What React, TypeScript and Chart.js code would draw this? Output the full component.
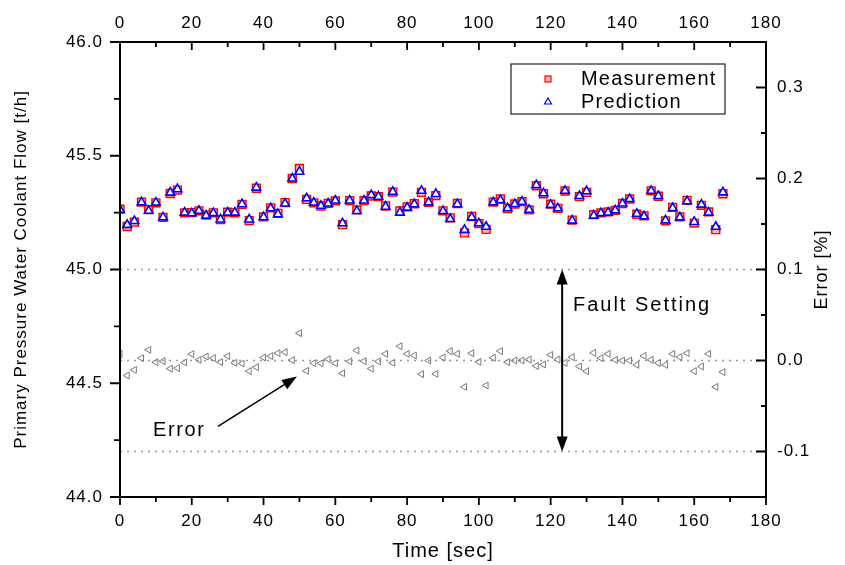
import React, { useEffect, useRef } from 'react';
import { Chart, registerables } from 'chart.js';

Chart.register(...registerables);

// ---------- data ----------
const timeSec = [
  0, 2, 4, 6, 8, 10, 12, 14, 16, 18, 20, 22, 24, 26, 28, 30, 32, 34, 36, 38,
  40, 42, 44, 46, 48, 50, 52, 54, 56, 58, 60, 62, 64, 66, 68, 70, 72, 74, 76, 78,
  80, 82, 84, 86, 88, 90, 92, 94, 96, 98, 100, 102, 104, 106, 108, 110, 112, 114, 116, 118,
  120, 122, 124, 126, 128, 130, 132, 134, 136, 138, 140, 142, 144, 146, 148, 150, 152, 154, 156, 158,
  160, 162, 164, 166, 168,
];

const prediction = [
  45.262, 45.196, 45.213, 45.295, 45.258, 45.294, 45.229, 45.338, 45.353, 45.25,
  45.247, 45.258, 45.237, 45.248, 45.22, 45.25, 45.25, 45.287, 45.22, 45.36,
  45.23, 45.269, 45.243, 45.29, 45.4, 45.43, 45.313, 45.294, 45.28, 45.29,
  45.303, 45.203, 45.303, 45.257, 45.303, 45.327, 45.32, 45.276, 45.341, 45.25,
  45.272, 45.287, 45.346, 45.295, 45.332, 45.257, 45.222, 45.287, 45.174, 45.229,
  45.203, 45.188, 45.295, 45.305, 45.269, 45.288, 45.298, 45.262, 45.371, 45.335,
  45.284, 45.269, 45.346, 45.215, 45.323, 45.344, 45.237, 45.248, 45.25, 45.26,
  45.29, 45.31, 45.245, 45.234, 45.346, 45.323, 45.216, 45.27, 45.229, 45.3,
  45.209, 45.285, 45.25, 45.188, 45.339,
];

const measurement = [
  45.265, 45.189, 45.208, 45.296, 45.263, 45.293, 45.229, 45.334, 45.349, 45.249,
  45.25, 45.258, 45.239, 45.249, 45.219, 45.252, 45.249, 45.286, 45.215, 45.357,
  45.231, 45.271, 45.247, 45.294, 45.4, 45.444, 45.308, 45.293, 45.279, 45.291,
  45.302, 45.197, 45.303, 45.262, 45.303, 45.323, 45.32, 45.279, 45.34, 45.257,
  45.275, 45.289, 45.339, 45.295, 45.325, 45.258, 45.227, 45.29, 45.161, 45.233,
  45.202, 45.176, 45.296, 45.31, 45.268, 45.288, 45.298, 45.262, 45.368, 45.333,
  45.287, 45.269, 45.345, 45.217, 45.32, 45.339, 45.241, 45.249, 45.253, 45.26,
  45.29, 45.31, 45.243, 45.236, 45.346, 45.322, 45.214, 45.273, 45.231, 45.304,
  45.204, 45.282, 45.253, 45.175, 45.333,
];

const errorPct = [
  0.007, -0.0165, -0.0103, 0.0026, 0.0117, -0.0018, -0.0007, -0.009, -0.0084, -0.0022,
  0.007, 0.0007, 0.0044, 0.0026, -0.0018, 0.0048, -0.0026, -0.0033, -0.0117, -0.0073,
  0.0033, 0.0048, 0.0081, 0.0092, 0.0004, 0.03, -0.0114, -0.003, -0.003, 0.0015,
  -0.003, -0.014, -0.001, 0.011, -0.0007, -0.009, -0.001, 0.0073, -0.0026, 0.0157,
  0.0073, 0.0055, -0.015, 0.0, -0.0147, 0.0033, 0.0103, 0.0073, -0.029, 0.008,
  -0.0015, -0.0275, 0.003, 0.0103, -0.0018, 0.0, 0.0, 0.0011, -0.006, -0.0044,
  0.0062, 0.0011, -0.0026, 0.0037, -0.0066, -0.0117, 0.0084, 0.0026, 0.0073, 0.0007,
  0.0, 0.0, -0.0048, 0.0051, 0.0007, -0.0026, -0.0048, 0.0073, 0.0037, 0.008,
  -0.0117, -0.0066, 0.0073, -0.029, -0.0128,
];

const xTicks = [0, 20, 40, 60, 80, 100, 120, 140, 160, 180];
const leftTicks = [44.0, 44.5, 45.0, 45.5, 46.0];
const rightTicks = [-0.1, 0.0, 0.1, 0.2, 0.3];
const faultLevels = [0.1, 0.0, -0.1];
const xRange = [0, 180];
const leftRange = [44.0, 46.0];
const rightRange = [-0.15, 0.35];

// annotation anchors (data coordinates: time, error %)
const faultArrowX = 123.2;
const faultLabel = { text: 'Fault Setting', x: 126.2, y: 0.06 };
const errorLabel = { text: 'Error', x: 9.2, y: -0.077 };
const errorArrow = { x0: 27.3, y0: -0.0725, x1: 49.3, y1: -0.0176 };

const FONT = '"Liberation Sans", Arial, Helvetica, sans-serif';

function midpoints(arr: number[]) {
  const out: number[] = [];
  for (let i = 0; i < arr.length - 1; i++) out.push((arr[i] + arr[i + 1]) / 2);
  return out;
}

function arrowHead(ctx: CanvasRenderingContext2D, x0: number, y0: number, x1: number, y1: number, len: number, half: number) {
  const a = Math.atan2(y1 - y0, x1 - x0);
  ctx.beginPath();
  ctx.moveTo(x1, y1);
  ctx.lineTo(x1 - len * Math.cos(a) + half * Math.sin(a), y1 - len * Math.sin(a) - half * Math.cos(a));
  ctx.lineTo(x1 - len * Math.cos(a) - half * Math.sin(a), y1 - len * Math.sin(a) + half * Math.cos(a));
  ctx.closePath();
  ctx.fill();
}

const decorPlugin = {
  id: 'decor',
  beforeDraw(chart: any) {
    chart.ctx.letterSpacing = '1px';
    const { ctx } = chart;
    ctx.save();
    ctx.fillStyle = '#fff';
    ctx.fillRect(0, 0, chart.width, chart.height);
    ctx.restore();
  },
  afterDraw(chart: any) {
    const { ctx, chartArea: ca, scales } = chart;
    const sx = scales.x;
    const sy = scales.y;
    const sy2 = scales.y2;
    ctx.save();
    ctx.strokeStyle = '#000';
    ctx.fillStyle = '#000';

    // frame
    ctx.lineWidth = 2;
    ctx.strokeRect(ca.left, ca.top, ca.right - ca.left, ca.bottom - ca.top);

    // ticks
    ctx.lineWidth = 1.8;
    ctx.beginPath();
    xTicks.forEach((v) => {
      const px = sx.getPixelForValue(v);
      ctx.moveTo(px, ca.bottom); ctx.lineTo(px, ca.bottom + 8);
      ctx.moveTo(px, ca.top); ctx.lineTo(px, ca.top + 8);
    });
    midpoints(xTicks).forEach((v) => {
      const px = sx.getPixelForValue(v);
      ctx.moveTo(px, ca.bottom); ctx.lineTo(px, ca.bottom + 5);
      ctx.moveTo(px, ca.top); ctx.lineTo(px, ca.top + 5);
    });
    leftTicks.forEach((v) => {
      const py = sy.getPixelForValue(v);
      ctx.moveTo(ca.left, py); ctx.lineTo(ca.left - 10, py);
    });
    midpoints(leftTicks).forEach((v) => {
      const py = sy.getPixelForValue(v);
      ctx.moveTo(ca.left, py); ctx.lineTo(ca.left - 6, py);
    });
    rightTicks.forEach((v) => {
      const py = sy2.getPixelForValue(v);
      ctx.moveTo(ca.right, py); ctx.lineTo(ca.right - 10, py);
    });
    midpoints(rightTicks).forEach((v) => {
      const py = sy2.getPixelForValue(v);
      ctx.moveTo(ca.right, py); ctx.lineTo(ca.right - 5, py);
    });
    ctx.stroke();

    // right axis title
    ctx.save();
    ctx.letterSpacing = '1px';
    ctx.font = `18px ${FONT}`;
    ctx.textAlign = 'center';
    ctx.textBaseline = 'middle';
    ctx.translate(822, (ca.top + ca.bottom) / 2);
    ctx.rotate(-Math.PI / 2);
    ctx.fillText('Error [%]', 0, 0);
    ctx.restore();

    // fault setting double arrow
    const fx = sx.getPixelForValue(faultArrowX);
    const fyTop = sy2.getPixelForValue(faultLevels[0]);
    const fyBot = sy2.getPixelForValue(faultLevels[2]);
    ctx.lineWidth = 2;
    ctx.beginPath();
    ctx.moveTo(fx, fyTop + 8);
    ctx.lineTo(fx, fyBot - 8);
    ctx.stroke();
    arrowHead(ctx, fx, fyBot, fx, fyTop, 15, 5.5);
    arrowHead(ctx, fx, fyTop, fx, fyBot, 15, 5.5);

    // error arrow
    const ax0 = sx.getPixelForValue(errorArrow.x0);
    const ay0 = sy2.getPixelForValue(errorArrow.y0);
    const ax1 = sx.getPixelForValue(errorArrow.x1);
    const ay1 = sy2.getPixelForValue(errorArrow.y1);
    ctx.lineWidth = 1.5;
    ctx.beginPath();
    ctx.moveTo(ax0, ay0);
    ctx.lineTo(ax1 - (ax1 - ax0) * 0.1, ay1 - (ay1 - ay0) * 0.1);
    ctx.stroke();
    arrowHead(ctx, ax0, ay0, ax1, ay1, 15, 5.5);

    // labels
    ctx.font = `20px ${FONT}`;
    ctx.textAlign = 'left';
    ctx.textBaseline = 'middle';
    ctx.letterSpacing = '2px';
    ctx.fillText(faultLabel.text, sx.getPixelForValue(faultLabel.x), sy2.getPixelForValue(faultLabel.y));
    ctx.letterSpacing = '1.6px';
    ctx.fillText(errorLabel.text, sx.getPixelForValue(errorLabel.x), sy2.getPixelForValue(errorLabel.y));

    // legend
    const lx = ca.left + 391;
    const ly = ca.top + 22;
    ctx.lineWidth = 1.2;
    ctx.strokeStyle = '#222';
    ctx.strokeRect(lx, ly, 214, 50);
    ctx.font = `20px ${FONT}`;
    ctx.letterSpacing = '1.2px';
    ctx.fillStyle = '#000';
    ctx.fillText('Measurement', lx + 70, ly + 15);
    ctx.fillText('Prediction', lx + 70, ly + 38);
    // legend markers
    ctx.fillStyle = 'rgba(255,120,120,0.55)';
    ctx.strokeStyle = '#ff0000';
    ctx.lineWidth = 1.2;
    ctx.fillRect(lx + 34, ly + 12, 6, 6);
    ctx.strokeRect(lx + 34, ly + 12, 6, 6);
    ctx.strokeStyle = '#0000ff';
    ctx.fillStyle = '#fff';
    ctx.beginPath();
    ctx.moveTo(lx + 37, ly + 34);
    ctx.lineTo(lx + 40.5, ly + 40);
    ctx.lineTo(lx + 33.5, ly + 40);
    ctx.closePath();
    ctx.fill();
    ctx.stroke();

    ctx.restore();
  },
};

export default function App() {
  const ref = useRef<HTMLCanvasElement | null>(null);

  useEffect(() => {
    document.body.style.margin = '0';
    const canvas = ref.current;
    if (!canvas) return;
    Chart.defaults.font.family = FONT;
    Chart.defaults.color = '#000';

    const pts = (ys: number[]) => timeSec.map((t, i) => ({ x: t, y: ys[i] }));
    const levelLine = (v: number) => [{ x: xRange[0], y: v }, { x: xRange[1], y: v }];

    const chart = new Chart(canvas, {
      type: 'scatter',
      data: {
        datasets: [
          {
            label: 'Prediction',
            data: pts(prediction),
            yAxisID: 'y',
            pointStyle: 'triangle',
            radius: 5,
            borderColor: '#0000ff',
            backgroundColor: '#ffffff',
            borderWidth: 1.6,
            order: 0,
          },
          {
            label: 'Measurement',
            data: pts(measurement),
            yAxisID: 'y',
            pointStyle: 'rect',
            radius: 5.6,
            borderColor: '#ff0000',
            backgroundColor: 'rgba(255,120,120,0.55)',
            borderWidth: 1.4,
            order: 1,
          },
          {
            label: 'Error',
            data: pts(errorPct),
            yAxisID: 'y2',
            pointStyle: 'triangle',
            rotation: -90,
            radius: 4,
            borderColor: '#7a7a7a',
            backgroundColor: 'rgba(255,255,255,0)',
            borderWidth: 1,
            order: 2,
          },
          ...faultLevels.map((v) => ({
            label: 'level',
            type: 'line' as const,
            data: levelLine(v),
            yAxisID: 'y2',
            showLine: true,
            borderColor: '#999999',
            borderWidth: 1.6,
            borderDash: [2, 5],
            pointRadius: 0,
            order: 3,
          })),
        ],
      } as any,
      plugins: [decorPlugin],
      options: {
        responsive: false,
        animation: false,
        devicePixelRatio: 1,
        layout: { padding: 0 },
        plugins: { legend: { display: false }, tooltip: { enabled: false } },
        events: [],
        scales: {
          x: {
            type: 'linear',
            position: 'bottom',
            min: xRange[0],
            max: xRange[1],
            afterBuildTicks: (s: any) => { s.ticks = xTicks.map((v) => ({ value: v })); },
            afterFit: (s: any) => { s.height = 68; },
            ticks: { font: { size: 17 }, color: '#000', padding: 14, maxRotation: 0, autoSkip: false },
            grid: { display: false, drawTicks: false },
            border: { display: false },
            title: { display: true, text: 'Time [sec]', font: { size: 20 }, color: '#000', padding: { top: 0, bottom: 2 } },
          },
          x2: {
            type: 'linear',
            position: 'top',
            min: xRange[0],
            max: xRange[1],
            afterBuildTicks: (s: any) => { s.ticks = xTicks.map((v) => ({ value: v })); },
            afterFit: (s: any) => { s.height = 42; },
            ticks: { font: { size: 17 }, color: '#000', padding: 8, maxRotation: 0, autoSkip: false },
            grid: { display: false, drawTicks: false },
            border: { display: false },
          },
          y: {
            type: 'linear',
            position: 'left',
            min: leftRange[0],
            max: leftRange[1],
            afterBuildTicks: (s: any) => { s.ticks = leftTicks.map((v) => ({ value: v })); },
            afterFit: (s: any) => { s.width = 120; },
            ticks: { font: { size: 17 }, color: '#000', padding: 17, callback: (v: any) => Number(v).toFixed(1) },
            grid: { display: false, drawTicks: false },
            border: { display: false },
            title: { display: true, text: 'Primary Pressure Water Coolant Flow [t/h]', font: { size: 17 }, color: '#000', padding: { top: 11, bottom: 0 } },
          },
          y2: {
            type: 'linear',
            position: 'right',
            min: rightRange[0],
            max: rightRange[1],
            afterBuildTicks: (s: any) => { s.ticks = rightTicks.map((v) => ({ value: v })); },
            afterFit: (s: any) => { s.width = 79; },
            ticks: {
              font: { size: 17 }, color: '#000', padding: 11,
              callback: (v: any) => (Math.abs(Number(v)) < 1e-9 ? 0 : Number(v)).toFixed(1),
            },
            grid: { display: false, drawTicks: false },
            border: { display: false },
          },
        },
      } as any,
    });
    return () => chart.destroy();
  }, []);

  return (
    <div style={{ width: 845, height: 565 }}>
      <canvas ref={ref} width={845} height={565} style={{ display: 'block', width: 845, height: 565 }} />
    </div>
  );
}
